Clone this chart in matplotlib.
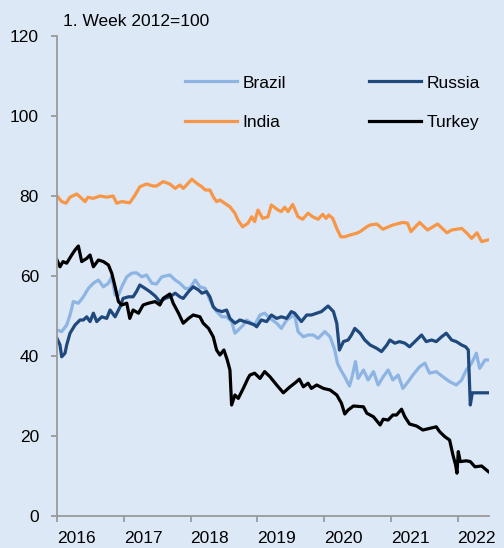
import matplotlib
matplotlib.use("Agg")
import matplotlib.pyplot as plt

plt.rcParams['font.family'] = ['Liberation Sans', 'DejaVu Sans']

# decimal years and index values (1. week 2012 = 100)
brazil_x = [2016.00, 2016.07, 2016.145, 2016.195, 2016.245, 2016.32, 2016.395, 2016.47, 2016.545, 2016.62,
            2016.695, 2016.77, 2016.82, 2016.87, 2016.92, 2016.97, 2017.045, 2017.12, 2017.19, 2017.27,
            2017.34, 2017.42, 2017.49, 2017.57, 2017.69, 2017.77, 2017.84, 2017.92, 2017.99, 2018.07,
            2018.14, 2018.22, 2018.29, 2018.34, 2018.39, 2018.47, 2018.54, 2018.615, 2018.665, 2018.715,
            2018.79, 2018.84, 2018.915, 2018.96, 2019.04, 2019.11, 2019.19, 2019.29, 2019.36, 2019.44,
            2019.51, 2019.56, 2019.61, 2019.69, 2019.76, 2019.84, 2019.91, 2020.01, 2020.09, 2020.16,
            2020.20, 2020.25, 2020.31, 2020.38, 2020.42, 2020.47, 2020.51, 2020.59, 2020.66, 2020.74,
            2020.81, 2020.885, 2020.96, 2021.03, 2021.11, 2021.18, 2021.26, 2021.33, 2021.43, 2021.51,
            2021.58, 2021.68, 2021.78, 2021.88, 2021.98, 2022.06, 2022.13, 2022.21, 2022.28, 2022.33,
            2022.41, 2022.46]
brazil = [46.5, 46.1, 47.75, 50.25, 53.6, 53.2, 54.8, 56.9, 58.2, 59.0,
          57.3, 58.2, 59.8, 55.25, 55.25, 57.3, 59.8, 60.7, 60.8, 59.8,
          60.25, 58.2, 58.0, 59.8, 60.25, 59.0, 58.2, 56.9, 56.9, 59.0,
          57.3, 56.9, 54.0, 52.3, 51.1, 49.8, 49.8, 48.6, 45.7, 46.5,
          47.75, 49.0, 48.2, 47.75, 50.25, 50.7, 49.4, 48.2, 46.9, 49.0,
          49.8, 50.25, 46.1, 44.8, 45.25, 45.25, 44.4, 46.1, 44.8, 41.5,
          38.2, 36.5, 34.8, 32.5, 34.8, 38.6, 34.4, 36.5, 34.0, 36.1,
          32.75, 34.8, 36.5, 34.0, 35.25, 31.9, 33.6, 35.25, 37.3, 38.2,
          35.7, 36.1, 34.8, 33.6, 32.75, 34.0, 36.5, 38.2, 40.7, 36.9,
          39.0, 39.0]

india_x = [2016.00, 2016.07, 2016.135, 2016.195, 2016.295, 2016.37, 2016.42, 2016.465, 2016.54, 2016.645,
           2016.745, 2016.84, 2016.895, 2016.97, 2017.09, 2017.17, 2017.24, 2017.34, 2017.44, 2017.49,
           2017.59, 2017.69, 2017.77, 2017.84, 2017.89, 2017.94, 2018.02, 2018.09, 2018.17, 2018.22,
           2018.29, 2018.34, 2018.39, 2018.44, 2018.51, 2018.59, 2018.665, 2018.71, 2018.78, 2018.86,
           2018.915, 2018.96, 2019.01, 2019.08, 2019.16, 2019.21, 2019.31, 2019.36, 2019.41, 2019.46,
           2019.53, 2019.61, 2019.68, 2019.76, 2019.83, 2019.91, 2019.98, 2020.03, 2020.07, 2020.13,
           2020.19, 2020.25, 2020.31, 2020.39, 2020.49, 2020.54, 2020.64, 2020.69, 2020.79, 2020.88,
           2021.03, 2021.18, 2021.25, 2021.30, 2021.43, 2021.55, 2021.70, 2021.84, 2021.91, 2022.06,
           2022.14, 2022.21, 2022.29, 2022.36, 2022.45]
india = [80.0, 78.6, 78.2, 79.7, 80.5, 79.4, 78.6, 79.7, 79.4, 80.0,
         79.7, 80.0, 78.2, 78.6, 78.3, 80.25, 82.3, 83.0, 82.5, 82.5,
         83.6, 83.0, 81.9, 82.75, 81.9, 82.75, 84.2, 83.2, 82.3, 81.5,
         81.5, 79.8, 78.6, 79.0, 78.2, 77.3, 75.7, 74.0, 72.3, 73.2,
         74.8, 73.6, 76.5, 74.4, 74.8, 77.75, 76.5, 76.1, 77.2, 76.1,
         77.9, 74.8, 74.2, 75.7, 74.8, 74.2, 75.4, 74.4, 75.25, 74.4,
         71.9, 69.8, 69.8, 70.25, 70.7, 71.1, 72.3, 72.75, 73.0, 71.7,
         72.75, 73.4, 73.2, 71.1, 73.4, 71.5, 73.0, 70.8, 71.5, 71.9,
         70.7, 69.4, 70.8, 68.6, 69.0]

russia_x = [2016.00, 2016.045, 2016.07, 2016.12, 2016.145, 2016.195, 2016.27, 2016.345, 2016.395, 2016.445,
            2016.495, 2016.545, 2016.595, 2016.67, 2016.745, 2016.795, 2016.87, 2016.945, 2016.99, 2017.07,
            2017.14, 2017.19, 2017.24, 2017.32, 2017.39, 2017.47, 2017.54, 2017.62, 2017.69, 2017.77,
            2017.84, 2017.89, 2017.97, 2018.04, 2018.12, 2018.17, 2018.24, 2018.29, 2018.34, 2018.39,
            2018.47, 2018.54, 2018.59, 2018.665, 2018.74, 2018.81, 2018.89, 2018.96, 2018.99, 2019.06,
            2019.14, 2019.21, 2019.29, 2019.36, 2019.44, 2019.51, 2019.56, 2019.66, 2019.74, 2019.81,
            2019.89, 2019.96, 2020.06, 2020.14, 2020.19, 2020.23, 2020.29, 2020.36, 2020.41, 2020.46,
            2020.54, 2020.61, 2020.69, 2020.79, 2020.86, 2020.94, 2020.985, 2021.06, 2021.13, 2021.21,
            2021.28, 2021.36, 2021.46, 2021.53, 2021.61, 2021.68, 2021.76, 2021.83, 2021.91, 2021.98,
            2022.06, 2022.12, 2022.16, 2022.19, 2022.22, 2022.46]
russia = [44.4, 42.75, 39.8, 40.7, 42.75, 45.7, 47.75, 49.0, 49.0, 49.8,
          48.6, 50.7, 48.6, 49.8, 49.4, 51.5, 49.8, 52.3, 54.4, 54.8,
          54.8, 56.1, 57.75, 56.9, 56.1, 55.0, 53.6, 54.4, 54.8, 55.7,
          54.8, 54.4, 56.1, 57.3, 56.5, 55.7, 56.1, 54.8, 52.3, 51.5,
          51.1, 51.5, 49.4, 48.2, 49.0, 48.6, 48.2, 47.75, 47.3, 49.0,
          48.6, 50.25, 49.4, 49.8, 49.4, 51.1, 50.7, 48.6, 50.25, 50.25,
          50.7, 51.1, 52.5, 51.1, 48.2, 41.5, 43.6, 44.0, 45.25, 46.9,
          45.7, 44.0, 42.75, 41.9, 41.1, 42.75, 44.0, 43.2, 43.6, 43.2,
          42.3, 43.6, 45.25, 43.6, 44.0, 43.6, 44.8, 45.7, 44.0, 43.6,
          42.75, 42.3, 41.5, 27.75, 30.8, 30.8]

turkey_x = [2016.00, 2016.045, 2016.09, 2016.145, 2016.22, 2016.27, 2016.32, 2016.37, 2016.445, 2016.495,
            2016.545, 2016.62, 2016.695, 2016.77, 2016.82, 2016.87, 2016.92, 2016.97, 2017.045, 2017.09,
            2017.14, 2017.22, 2017.29, 2017.37, 2017.47, 2017.54, 2017.59, 2017.69, 2017.74, 2017.82,
            2017.89, 2017.97, 2018.04, 2018.14, 2018.19, 2018.27, 2018.34, 2018.39, 2018.44, 2018.50,
            2018.55, 2018.59, 2018.615, 2018.665, 2018.715, 2018.79, 2018.86, 2018.89, 2018.96, 2019.04,
            2019.11, 2019.19, 2019.29, 2019.39, 2019.49, 2019.56, 2019.63, 2019.69, 2019.76, 2019.81,
            2019.89, 2019.99, 2020.09, 2020.19, 2020.26, 2020.31, 2020.36, 2020.44, 2020.59, 2020.64,
            2020.74, 2020.84, 2020.885, 2020.96, 2021.03, 2021.085, 2021.16, 2021.21, 2021.28, 2021.385,
            2021.48, 2021.58, 2021.68, 2021.73, 2021.81, 2021.88, 2021.93, 2021.97, 2021.99, 2022.01,
            2022.04, 2022.13, 2022.19, 2022.26, 2022.36, 2022.46]
turkey = [64.0, 62.3, 63.6, 63.2, 65.25, 66.5, 67.5, 63.6, 64.4, 65.25,
          62.3, 64.0, 63.6, 62.75, 60.7, 57.3, 53.6, 52.75, 53.2, 49.4,
          51.5, 50.7, 52.75, 53.2, 53.6, 52.75, 54.4, 55.5, 53.2, 50.7,
          48.2, 49.4, 50.25, 49.8, 48.2, 46.9, 44.8, 41.5, 40.25, 41.5,
          39.0, 36.5, 27.75, 30.25, 29.4, 31.9, 34.4, 35.25, 35.7, 34.4,
          36.1, 34.8, 32.75, 30.8, 32.3, 33.2, 34.2, 32.3, 33.2, 31.9,
          32.75, 31.9, 31.5, 30.25, 28.2, 25.5, 26.5, 27.5, 27.3, 25.7,
          24.8, 22.75, 24.2, 24.0, 25.25, 25.25, 26.7, 24.8, 23.0, 22.5,
          21.5, 21.9, 22.3, 21.1, 19.8, 19.0, 15.25, 12.75, 10.7, 16.1,
          13.6, 13.8, 13.6, 12.3, 12.5, 11.1]

years = [2016, 2017, 2018, 2019, 2020, 2021, 2022]
yticks = [0, 20, 40, 60, 80, 100, 120]

bg = '#dce8f6'
fig = plt.figure(figsize=(5.04, 5.48), dpi=100, facecolor=bg)
ax = fig.add_axes([57 / 504, 1 - 516 / 548, 432 / 504, 480 / 548])
ax.set_facecolor(bg)

lw = 2.3
ax.plot(brazil_x, brazil, color='#8db4e2', lw=lw, label='Brazil', solid_joinstyle='round')
ax.plot(india_x, india, color='#f79646', lw=lw, label='India', solid_joinstyle='round')
ax.plot(russia_x, russia, color='#1f497d', lw=lw, label='Russia', solid_joinstyle='round')
ax.plot(turkey_x, turkey, color='black', lw=lw, label='Turkey', solid_joinstyle='round')

ax.set_xlim(2016, 2022.47)
ax.set_ylim(0, 120)
ax.set_yticks(yticks)
ax.set_xticks(years)
ax.set_xticklabels([str(y) for y in years], ha='left')

for s in ['top', 'right']:
    ax.spines[s].set_visible(False)
for s in ['left', 'bottom']:
    ax.spines[s].set_color('#9a9a9a')
    ax.spines[s].set_linewidth(1.3)
ax.tick_params(axis='both', colors='#9a9a9a', width=1.3, length=4, labelcolor='black', labelsize=12.5)
ax.tick_params(axis='y', pad=9)
ax.tick_params(axis='x', pad=7)

fig.text(63 / 504, 1 - 21 / 548, '1. Week 2012=100', fontsize=12.5, va='center', ha='left')

leg = ax.legend(ncol=2, loc='upper left', bbox_to_anchor=(0.296, 0.918), frameon=False,
                fontsize=12.5, handlelength=3.0, handletextpad=0.3, columnspacing=4.8,
                labelspacing=1.4, borderpad=0, borderaxespad=0)

fig.savefig('out.png', dpi=100, facecolor=bg)
